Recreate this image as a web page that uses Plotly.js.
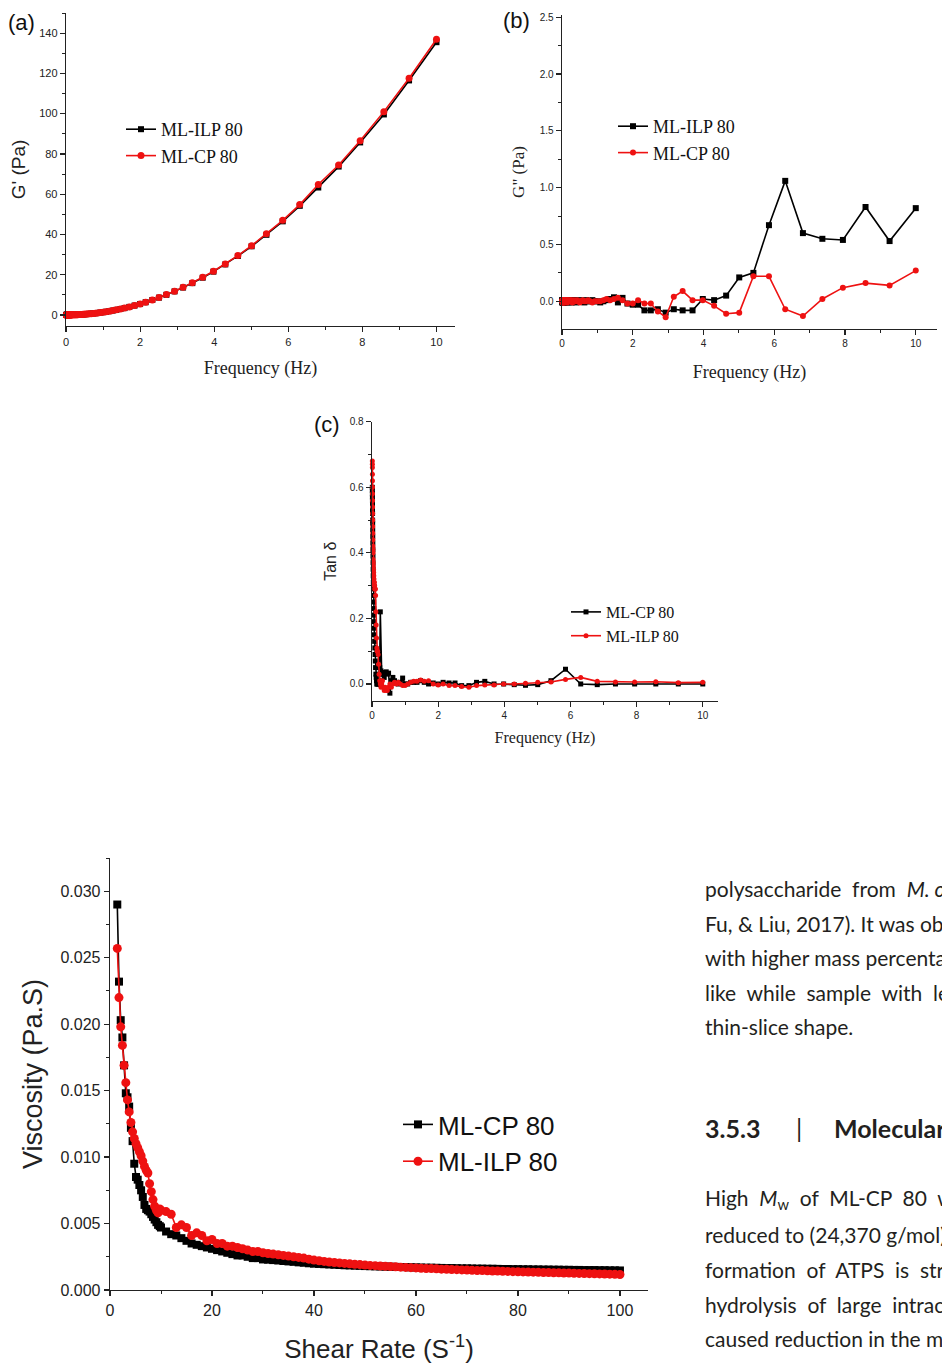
<!DOCTYPE html>
<html><head><meta charset="utf-8">
<script src="https://cdn.plot.ly/plotly-3.0.1.min.js"></script>
<style>body{margin:0;background:#fff}#chart{width:942px;height:1365px}</style>
</head><body><div id="chart"></div>
<script>
// Frequency sweep (Hz)
const freq = [0.01,0.0108,0.0117,0.0126,0.0136,0.0147,0.0158,0.0171,0.0185,0.02,
0.0215,0.0233,0.0251,0.0271,0.0293,0.0316,0.0341,0.0369,0.0398,0.043,
0.0464,0.0501,0.0541,0.0585,0.0631,0.0681,0.0736,0.0794,0.0858,0.0926,
0.1,0.108,0.117,0.126,0.136,0.147,0.158,0.171,0.185,0.2,
0.215,0.233,0.251,0.271,0.293,0.316,0.341,0.369,0.398,0.43,
0.464,0.501,0.541,0.585,0.631,0.681,0.736,0.794,0.858,0.926,
1,1.08,1.17,1.26,1.36,1.47,1.58,1.71,1.85,2,
2.15,2.33,2.51,2.71,2.93,3.16,3.41,3.69,3.98,4.3,
4.64,5.01,5.41,5.85,6.31,6.81,7.36,7.94,8.58,9.26,10];

// (a) G' (Pa)
const gp_ILP = [0,0,0,0,0,0,0,0,0,0.001,0.001,0.001,0.001,0.001,0.001,0.001,0.002,0.002,0.002,0.003,
0.003,0.003,0.004,0.005,0.005,0.006,0.007,0.009,0.01,0.012,
0.014,0.016,0.019,0.022,0.025,0.029,0.034,0.04,0.047,0.054,0.063,0.074,0.086,0.1,0.117,0.136,0.158,0.185,0.215,0.25,
0.29,0.34,0.4,0.47,0.54,0.63,0.74,0.86,1.0,1.17,
1.36,1.59,1.86,2.16,2.52,2.94,3.4,3.98,4.65,5.4,6.3,7.4,8.6,10.0,11.7,13.6,15.8,18.5,21.5,25.1,
29.3,34.1,39.8,46.5,54.2,63.3,73.7,85.7,99.6,116.5,135.5];
const gp_CP = [0,0,0,0,0,0,0,0,0,0.001,0.001,0.001,0.001,0.001,0.001,0.001,0.002,0.002,0.002,0.003,
0.003,0.003,0.004,0.005,0.005,0.006,0.007,0.009,0.01,0.012,
0.014,0.016,0.019,0.022,0.025,0.029,0.034,0.04,0.047,0.054,0.063,0.074,0.086,0.1,0.117,0.136,0.158,0.185,0.215,0.25,
0.29,0.34,0.4,0.47,0.54,0.63,0.74,0.86,1.0,1.17,
1.37,1.6,1.87,2.17,2.53,2.95,3.42,4.0,4.68,5.45,6.3,7.4,8.7,10.1,11.8,13.7,16.0,18.7,21.7,25.3,
29.5,34.4,40.3,47.0,54.8,64.8,74.5,86.5,101.0,117.6,137.0];

// (b) G'' (Pa)
const gpp_ILP = [0.0,0.01,-0.01,0.0,0.01,0.0,-0.01,0.01,0.0,0.0,0.01,-0.01,0.0,0.01,0.0,0.0,-0.01,0.01,0.0,0.01,
0.0,-0.01,0.0,0.01,0.0,0.0,0.01,-0.01,0.0,0.01,
0.0,0.01,0.0,-0.01,0.01,0.0,0.0,0.01,-0.01,0.0,0.01,0.0,0.0,-0.01,0.01,0.0,0.01,0.0,-0.01,0.0,
0.0,0.01,0.0,0.0,-0.01,0.01,0.0,0.0,0.01,0.0,
0.0,-0.01,0.0,0.01,0.02,0.035,-0.01,0.03,-0.02,-0.03,-0.03,-0.08,-0.08,-0.07,-0.1,-0.07,-0.08,-0.08,0.02,0.01,
0.05,0.21,0.25,0.67,1.06,0.6,0.55,0.54,0.83,0.53,0.82];
const gpp_CP = [0.01,0.0,0.0,0.01,-0.01,0.0,0.01,0.0,0.0,0.01,-0.01,0.0,0.01,0.0,0.0,0.01,0.0,-0.01,0.0,0.01,
0.0,0.0,0.01,-0.01,0.0,0.01,0.0,0.0,-0.01,0.0,
0.01,0.0,0.0,0.01,0.0,-0.01,0.01,0.0,0.01,0.0,0.0,0.01,0.0,0.01,-0.01,0.0,0.01,0.0,0.0,0.01,
0.0,-0.01,0.0,0.01,0.0,0.0,0.01,0.0,-0.01,0.0,
0.0,0.0,0.01,0.02,0.01,0.02,0.03,0.01,-0.02,-0.02,0.01,-0.02,-0.02,-0.09,-0.14,0.04,0.09,0.01,0.01,-0.04,
-0.11,-0.1,0.22,0.22,-0.07,-0.13,0.02,0.12,0.16,0.14,0.27];

// (c) Tan delta
const tan_CP = [0.6,0.59,0.58,0.57,0.56,0.55,0.53,0.52,0.5,0.49,0.47,0.45,0.43,0.41,0.39,0.37,0.35,0.33,0.31,0.29,
0.27,0.25,0.23,0.21,0.19,0.17,0.15,0.13,0.11,0.09,
0.07,0.05,0.03,0.02,0.01,0.0,0.0,0.01,0.0,0.0,0.01,0.05,0.22,0.04,0.03,0.035,0.03,0.02,0.035,0.037,
0.03,0.033,-0.028,0.01,0.02,0.01,0.005,0.0,0.005,0.018,
0.0,0.0,0.005,0.005,0.005,0.01,0.005,0.0,0.003,0.0,0.005,0.003,0.003,-0.005,-0.005,0.005,0.008,0.0,0.0,-0.002,
-0.004,-0.002,0.01,0.045,0.0,-0.002,0.0,0.0,0.0,0.0,0.0];
const tan_ILP = [0.68,0.67,0.66,0.64,0.62,0.6,0.58,0.56,0.54,0.52,0.5,0.48,0.46,0.44,0.42,0.41,0.4,0.38,0.37,0.36,
0.35,0.34,0.33,0.32,0.31,0.31,0.3,0.3,0.29,0.29,
0.29,0.27,0.22,0.18,0.14,0.11,0.1,0.1,0.09,0.06,0.03,0.01,0.0,-0.01,0.0,0.01,-0.01,-0.02,-0.01,-0.02,
-0.02,-0.01,0.0,-0.01,0.0,0.005,0.0,0.005,0.0,-0.005,
-0.005,0.0,0.005,0.008,0.008,0.012,0.008,0.01,0.0,-0.003,0.0,-0.005,-0.005,-0.008,-0.01,-0.005,-0.003,-0.003,0.0,0.0,
0.002,0.005,0.006,0.014,0.02,0.008,0.006,0.006,0.007,0.004,0.005];

// (d) Viscosity vs shear rate
const shear = [1.43,1.76,2.1,2.43,2.76,3.1,3.43,3.76,4.1,4.43,4.76,5.1,5.43,5.76,6.1,6.43,6.76,7.1,7.43,7.76,
8.1,8.43,8.76,9.1,9.43,9.76,
10,11,12,13,14,15,16,17,18,19,20,21,22,23,24,25,26,27,28,29,30,31,32,33,34,35,36,37,38,39,40,
41,42,43,44,45,46,47,48,49,50,51,52,53,54,55,56,57,58,59,60,61,62,63,64,65,66,67,68,69,70,
71,72,73,74,75,76,77,78,79,80,81,82,83,84,85,86,87,88,89,90,91,92,93,94,95,96,97,98,99,100];
const visc_CP = [0.029,0.0232,0.0203,0.019,0.0169,0.0148,0.0145,0.0138,0.0122,0.0112,0.0095,0.0085,0.0083,0.0079,0.0075,0.007,0.0064,0.0061,0.006,0.0059,
0.0057,0.0055,0.0053,0.0051,0.0049,0.0048,
0.0047,0.0044,0.0042,0.0041,0.0039,0.0037,0.0035,0.0034,0.0033,0.0032,0.0031,0.003,0.0029,0.0028,0.0027,0.0026,0.0026,0.0025,0.0024,0.0024,0.0023,
0.00228,0.00225,0.00222,0.00218,0.00215,0.00212,0.00208,0.00205,0.00201,0.00198,
0.00196,0.00194,0.00192,0.0019,0.00188,0.00186,0.00185,0.00183,0.00182,0.0018,
0.00179,0.00178,0.00177,0.00176,0.00175,0.00174,0.00173,0.00172,0.00171,0.0017,
0.00169,0.00168,0.00168,0.00167,0.00166,0.00165,0.00165,0.00164,0.00163,0.00163,
0.00162,0.00161,0.00161,0.0016,0.0016,0.00159,0.00158,0.00158,0.00157,0.00157,
0.00156,0.00156,0.00155,0.00155,0.00154,0.00154,0.00153,0.00153,0.00152,0.00152,
0.00151,0.00151,0.0015,0.0015,0.0015,0.00149,0.00149,0.00148,0.00148,0.00147];
const visc_ILP = [0.0257,0.022,0.0198,0.0184,0.0169,0.0156,0.0143,0.0134,0.0126,0.0119,0.0114,0.011,0.0107,0.0104,0.0101,0.0097,0.0093,0.009,0.0088,0.008,
0.0074,0.0068,0.0063,0.006,0.0058,0.0061,
0.006,0.0059,0.0057,0.0047,0.0049,0.0047,0.0041,0.0043,0.0041,0.0037,0.0038,0.0035,0.0035,0.0033,0.0033,0.0032,0.0031,0.003,0.0029,0.0029,0.0028,
0.00275,0.0027,0.00265,0.0026,0.00255,0.0025,0.00245,0.0024,0.00232,0.00225,
0.0022,0.00215,0.0021,0.00207,0.00204,0.002,0.00197,0.00194,0.00191,0.00188,
0.00185,0.00183,0.0018,0.00178,0.00176,0.00174,0.00172,0.0017,0.00168,0.00166,
0.00164,0.00162,0.00161,0.00159,0.00157,0.00156,0.00154,0.00153,0.00151,0.0015,
0.00148,0.00147,0.00146,0.00144,0.00143,0.00142,0.00141,0.0014,0.00138,0.00137,
0.00136,0.00135,0.00134,0.00133,0.00132,0.00131,0.0013,0.00129,0.00128,0.00127,
0.00126,0.00125,0.00124,0.00123,0.00122,0.00121,0.0012,0.00119,0.00118,0.00117];

const BLK = '#000000', RED = '#ee1111';
const SANS = 'Liberation Sans, Arial, sans-serif', SERIF = 'Liberation Serif, Times New Roman, serif';
const W = 942, H = 1365;
const px = v => v / W, py = v => 1 - v / H;

function tr(x, y, name, color, sym, ms, xa, ya, leg) {
  return {x: x, y: y, name: name, type: 'scatter', mode: 'lines+markers', xaxis: xa, yaxis: ya, legend: leg,
    cliponaxis: false, line: {color: color, width: 1.6}, marker: {color: color, symbol: sym, size: ms}};
}
const data = [
  tr(freq, gp_ILP, 'ML-ILP 80', BLK, 'square', 6, 'x', 'y', 'legend'),
  tr(freq, gp_CP, 'ML-CP 80', RED, 'circle', 7, 'x', 'y', 'legend'),
  tr(freq, gpp_ILP, 'ML-ILP 80', BLK, 'square', 6, 'x2', 'y2', 'legend2'),
  tr(freq, gpp_CP, 'ML-CP 80', RED, 'circle', 6, 'x2', 'y2', 'legend2'),
  tr(freq, tan_CP, 'ML-CP 80', BLK, 'square', 5, 'x3', 'y3', 'legend3'),
  tr(freq, tan_ILP, 'ML-ILP 80', RED, 'circle', 5, 'x3', 'y3', 'legend3'),
  tr(shear, visc_CP, 'ML-CP 80', BLK, 'square', 8, 'x4', 'y4', 'legend4'),
  tr(shear, visc_ILP, 'ML-ILP 80', RED, 'circle', 9, 'x4', 'y4', 'legend4')
];

function ax(o) {
  return Object.assign({showline: true, linecolor: '#222', linewidth: 1.3, ticks: 'outside', ticklen: 5, tickwidth: 1.2,
    tickcolor: '#222', showgrid: false, zeroline: false, fixedrange: true,
    minor: {ticks: 'outside', ticklen: 3, tickwidth: 1, tickcolor: '#222', dtick: o.mdt, showgrid: false}}, o.rest);
}

const layout = {
  width: W, height: H, margin: {l: 0, r: 0, t: 0, b: 0}, paper_bgcolor: '#fff', plot_bgcolor: 'rgba(0,0,0,0)',
  showlegend: true,
  xaxis: ax({mdt: 1, rest: {domain: [px(66), px(455)], range: [0, 10.5], dtick: 2, tick0: 0, anchor: 'y',
    tickfont: {family: SANS, size: 11, color: '#222'},
    title: {text: 'Frequency (Hz)', font: {family: SERIF, size: 18, color: '#222'}, standoff: 15}}}),
  yaxis: ax({mdt: 10, rest: {domain: [py(326), py(13)], range: [-5.5, 150], dtick: 20, tick0: 0, anchor: 'x',
    tickfont: {family: SANS, size: 11, color: '#222'},
    title: {text: "G' (Pa)", font: {family: SANS, size: 19, color: '#222'}, standoff: 8}}}),
  xaxis2: ax({mdt: 1, rest: {domain: [px(562), px(937)], range: [0, 10.6], dtick: 2, tick0: 0, anchor: 'y2',
    tickfont: {family: SANS, size: 10, color: '#222'},
    title: {text: 'Frequency (Hz)', font: {family: SERIF, size: 18, color: '#222'}, standoff: 17}}}),
  yaxis2: ax({mdt: 0.25, rest: {domain: [py(329), py(15)], range: [-0.244, 2.52], dtick: 0.5, tick0: 0, tickformat: '.1f', anchor: 'x2',
    tickfont: {family: SANS, size: 10, color: '#222'},
    title: {text: 'G" (Pa)', font: {family: SERIF, size: 17, color: '#222'}, standoff: 10}}}),
  xaxis3: ax({mdt: 1, rest: {domain: [px(372), px(718)], range: [0, 10.46], dtick: 2, tick0: 0, anchor: 'y3',
    tickfont: {family: SANS, size: 10, color: '#222'},
    title: {text: 'Frequency (Hz)', font: {family: SERIF, size: 16, color: '#222'}, standoff: 11}}}),
  yaxis3: ax({mdt: 0.1, rest: {domain: [py(700.7), py(421.7)], range: [-0.051, 0.8], dtick: 0.2, tick0: 0, tickformat: '.1f', anchor: 'x3',
    tickfont: {family: SANS, size: 10, color: '#222'},
    title: {text: 'Tan δ', font: {family: SANS, size: 16, color: '#222'}, standoff: 9}}}),
  xaxis4: ax({mdt: 10, rest: {domain: [px(110), px(648)], range: [0, 105.5], dtick: 20, tick0: 0, anchor: 'y4',
    tickfont: {family: SANS, size: 16, color: '#222'},
    title: {text: 'Shear Rate (S<sup>-1</sup>)', font: {family: SANS, size: 26, color: '#222'}, standoff: 22}}}),
  yaxis4: ax({mdt: 0.0025, rest: {domain: [py(1290), py(858)], range: [0, 0.0325], dtick: 0.005, tick0: 0, tickformat: '.3f', anchor: 'x4',
    tickfont: {family: SANS, size: 16, color: '#222'},
    title: {text: 'Viscosity (Pa.S)', font: {family: SANS, size: 27, color: '#222'}, standoff: 10}}}),
  legend: {x: px(121), y: py(111), xanchor: 'left', yanchor: 'top', bgcolor: 'rgba(0,0,0,0)',
    font: {family: SERIF, size: 18, color: '#111'}},
  legend2: {x: px(613), y: py(108), xanchor: 'left', yanchor: 'top', bgcolor: 'rgba(0,0,0,0)',
    font: {family: SERIF, size: 18, color: '#111'}},
  legend3: {x: px(566), y: py(595), xanchor: 'left', yanchor: 'top', bgcolor: 'rgba(0,0,0,0)',
    font: {family: SERIF, size: 16, color: '#111'}},
  legend4: {x: px(398), y: py(1101), xanchor: 'left', yanchor: 'top', bgcolor: 'rgba(0,0,0,0)',
    font: {family: SANS, size: 26, color: '#111'}},
  annotations: []
};

function note(text, x, y, size, family, color) {
  layout.annotations.push({text: text, xref: 'paper', yref: 'paper', x: px(x), y: py(y),
    xanchor: 'left', yanchor: 'middle', showarrow: false, font: {family: family, size: size, color: color || '#111'}});
}
note('(a)', 6, 22, 22, SANS);
note('(b)', 501, 21, 22, SANS);
note('(c)', 312, 424, 22, SANS);

const LATO = 'Lato, Open Sans, sans-serif', TXT = '#231f20';
const bodyLines = [
  ['polysaccharide  from  <i>M. oleifera</i>', 888],
  ['Fu, &amp; Liu, 2017). It was observed', 923],
  ['with higher mass percentage', 958],
  ['like  while  sample  with  less', 992],
  ['thin-slice shape.', 1026],
  ['High  <i>M</i><sub>w</sub>  of  ML-CP  80  was', 1199],
  ['reduced to (24,370 g/mol)', 1234],
  ['formation  of  ATPS  is  strongly', 1269],
  ['hydrolysis  of  large  intracellular', 1304],
  ['caused reduction in the molecular', 1338]
];
bodyLines.forEach(l => note(l[0], 703, l[1], 21, LATO, TXT));
note('<b>3.5.3</b>', 703, 1128, 25, LATO, TXT);
note('|', 794, 1128, 25, LATO, TXT);
note('<b>Molecular weight</b>', 832, 1128, 25, LATO, TXT);

Plotly.newPlot('chart', data, layout, {displayModeBar: false, staticPlot: true});
</script></body></html>
